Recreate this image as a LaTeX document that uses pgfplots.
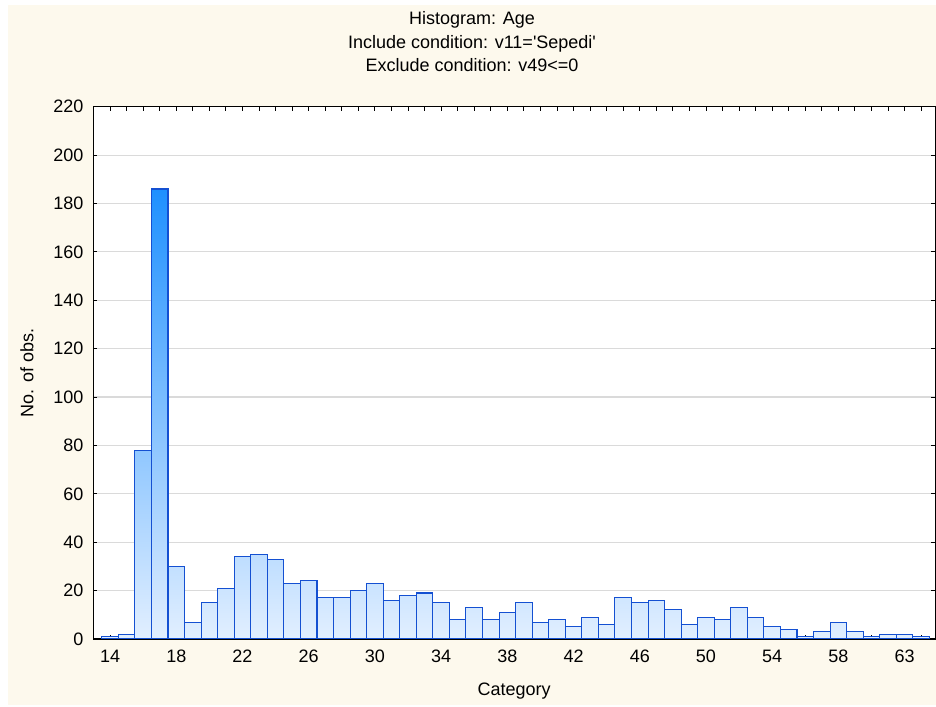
\documentclass[border=0pt]{standalone}
\usepackage{pgfplots}
\usepackage{pgfplotstable}
\pgfplotsset{compat=1.18}
\usepackage{fontspec}
\setmainfont{Liberation Sans}
\definecolor{cream}{RGB}{253,249,237}
\definecolor{barline}{RGB}{20,80,210}
\definecolor{bartop}{RGB}{30,144,255}
\definecolor{barbot}{RGB}{226,239,255}
\definecolor{gridc}{RGB}{218,218,218}

% x = bar index (0 = age 14, ..., 49 = age 63); last row only closes the shaded area
\pgfplotstableread{
x y
0 1
1 2
2 78
3 186
4 30
5 7
6 15
7 21
8 34
9 35
10 33
11 23
12 24
13 17
14 17
15 20
16 23
17 16
18 18
19 19
20 15
21 8
22 13
23 8
24 11
25 15
26 7
27 8
28 5
29 9
30 6
31 17
32 15
33 16
34 12
35 6
36 9
37 8
38 13
39 9
40 5
41 4
42 1
43 3
44 7
45 3
46 1
47 2
48 2
49 1
50 1
}\agedata

\begin{document}
\begin{tikzpicture}
\fill[white] (-70pt,-51pt) rectangle (632pt,479.25pt);
\fill[cream] (-64pt,-49.5pt) rectangle (632pt,475.5pt);
\node[anchor=base,font=\fontsize{13.5}{16}\selectfont] at (284pt,460.5pt) {Histogram: Age};
\node[anchor=base,font=\fontsize{13.5}{16}\selectfont] at (284pt,443pt) {Include condition: v11=\textquotesingle Sepedi\textquotesingle};
\node[anchor=base,font=\fontsize{13.5}{16}\selectfont] at (284pt,425.5pt) {Exclude condition: v49<=0};
\begin{axis}[
  scale only axis, width=631.3pt, height=399.2pt,
  at={(0pt,0pt)}, anchor=south west,
  axis background/.style={fill=white},
  xmin=-1.01, xmax=49.84, ymin=0, ymax=220,
  ytick={0,20,...,220},
  xtick={0,4,...,48},
  xticklabels={14,18,22,26,30,34,38,42,46,50,54,58,63},
  minor xtick={0,...,49},
  tick align=inside,
  major tick length=3pt, minor tick length=3pt,
  every tick/.style={black, line width=0.7pt},
  axis line style={black, line width=0.8pt},
  ymajorgrids,
  grid style={gridc, line width=0.9pt},
  /pgf/number format/assume math mode=true,
  tick label style={font=\fontsize{13.5}{16}\selectfont},
  yticklabel style={xshift=-4pt},
  xticklabel style={yshift=-5pt},
  xlabel={Category},
  ylabel={No. of obs.},
  label style={font=\fontsize{13.5}{16}\selectfont},
  xlabel style={at={(axis description cs:0.5,-0.0977)}, anchor=center},
  ylabel style={at={(axis description cs:-0.0788,0.5)}, anchor=center},
]
\addplot[draw=none, top color=bartop, bottom color=barbot, const plot mark left]
  table[x expr=\thisrow{x}-0.5, y=y] {\agedata} \closedcycle;
\addplot[ybar, bar width=1, bar shift=0pt, draw=barline, line width=0.8pt, fill=none,
  skip coords between index={50}{51}]
  table[x=x, y=y] {\agedata};
\end{axis}
\end{tikzpicture}
\end{document}
